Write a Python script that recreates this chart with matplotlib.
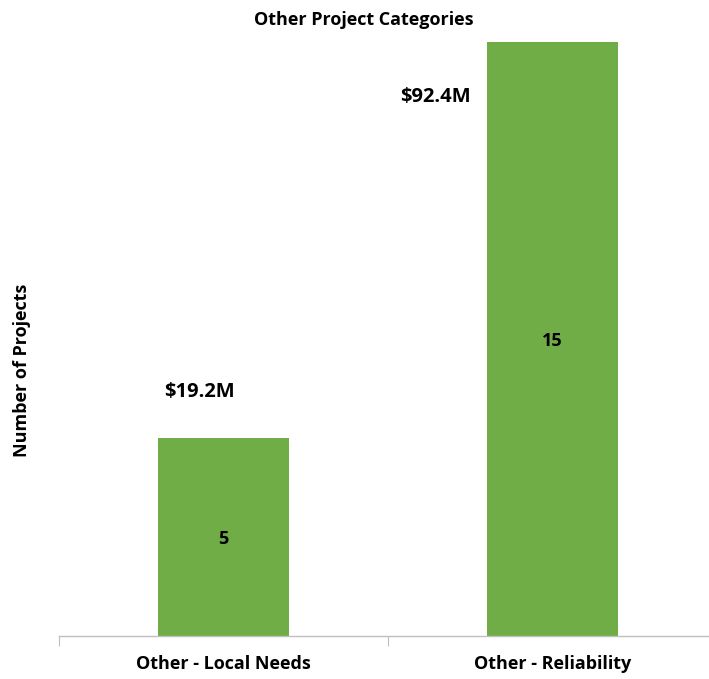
import matplotlib
matplotlib.use("Agg")
import matplotlib.pyplot as plt

categories = ["Other - Local Needs", "Other - Reliability"]
projects = [5, 15]
costs = ["$19.2M", "$92.4M"]
cost_label_x = [-0.073, 0.645]
cost_label_y = [6.15, 13.6]

plt.rcParams['font.family'] = ['Open Sans', 'DejaVu Sans']

fig = plt.figure(figsize=(7.09, 6.79), dpi=100)
ax = fig.add_axes([59/709, 1-636/679, 658/709, (636-42)/679])

x = list(range(len(categories)))
ax.bar(x, projects, width=0.4, color="#70AD47", zorder=2)
ax.set_xlim(-0.5, 1.5)
ax.set_ylim(0, 15)

for xi, v in zip(x, projects):
    ax.text(xi, v/2 - 0.05, str(v), ha="center", va="center", fontsize=13, fontweight="bold", color="black")
for xl, yl, c in zip(cost_label_x, cost_label_y, costs):
    ax.text(xl, yl, c, ha="center", va="center", fontsize=14.5, fontweight="bold", color="black")

for s in ["top", "right", "left"]:
    ax.spines[s].set_visible(False)
ax.spines["bottom"].set_color("#BFBFBF")
ax.spines["bottom"].set_linewidth(1)
ax.set_yticks([])
ax.set_xticks([-0.5, 0.5, 1.5])
ax.set_xticklabels([])
ax.tick_params(axis="x", which="major", length=7, color="#BFBFBF", direction="out")
ax.set_xticks(x, minor=True)
ax.set_xticklabels(categories, minor=True, fontsize=13, fontweight="bold")
ax.tick_params(axis="x", which="minor", length=0, pad=14)

fig.text(22/709, 1-370/679, "Number of Projects", rotation=90, ha="center", va="center",
         fontsize=13, fontweight="bold")
fig.text(364/709, 1-20/679, "Other Project Categories", ha="center", va="center", fontsize=13, fontweight="bold")

fig.savefig("out.png", dpi=100)
